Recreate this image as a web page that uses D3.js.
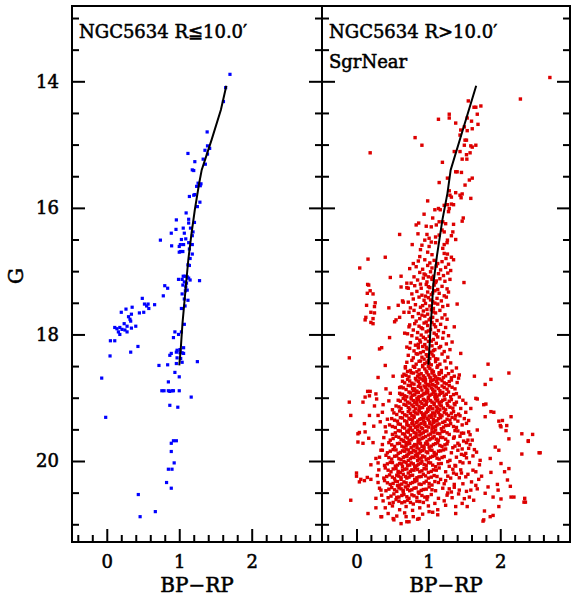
<!DOCTYPE html>
<html>
<head>
<meta charset="utf-8">
<script src="https://cdn.jsdelivr.net/npm/d3@7"></script>
<style>
body{margin:0;background:#fff}
text{font-family:"DejaVu Serif",serif;fill:#000;stroke:#000;stroke-width:0.55px}
</style>
</head>
<body>
<div id="chart"></div>
<script>
// tick values
var xMajor = [0, 1, 2];
var xMinor = [-0.4, -0.2, 0.2, 0.4, 0.6, 0.8, 1.2, 1.4, 1.6, 1.8, 2.2, 2.4, 2.6, 2.8];
var yMajor = [14, 16, 18, 20];
var yMinor = [13, 13.5, 14.5, 15, 15.5, 16.5, 17, 17.5, 18.5, 19, 19.5, 20.5, 21];

// ridge lines (BP-RP, G)
var ridgeIn = [[1.65,14.07],[1.575,14.45],[1.445,14.93],[1.31,15.40],[1.275,15.61],[1.215,16.03],[1.17,16.40],[1.125,16.82],[1.09,17.25],[1.045,17.82],[1.02,18.24],[1.00,18.49]];
var ridgeOut = [[1.665,14.07],[1.31,15.40],[1.265,15.77],[1.195,16.19],[1.12,16.75],[1.07,17.19],[1.035,17.82],[1.00,18.48]];

// stars inside R<=10' : flat list of BP-RP, G
var inner = [1.70,13.89, 1.64,14.10, 1.61,14.32, 1.385,14.80, 1.39,15.02, 1.42,15.06, 1.355,15.09, 1.39,15.15, 1.33,15.23, 1.36,15.31, 1.12,15.14, 1.215,15.27, 1.18,15.40, 1.20,15.41, 1.26,15.61, 1.30,15.62, 1.24,15.66, 1.29,15.65, 1.215,15.79, 1.20,15.80, 1.14,15.82, 1.285,15.91, 1.25,15.98, 1.095,16.08, 1.13,16.18, 0.96,16.19, 1.21,16.23, 1.13,16.24, 1.055,16.32, 0.955,16.34, 1.155,16.32, 1.19,16.38, 0.89,16.40, 1.07,16.40, 1.18,16.44, 1.09,16.49, 1.03,16.50, 0.74,16.51, 1.13,16.55, 1.18,16.58, 1.06,16.58, 1.015,16.58, 0.895,16.60, 1.00,16.61, 1.14,16.65, 1.02,16.69, 1.00,16.70, 1.05,16.69, 1.18,16.73, 1.15,16.80, 1.12,16.90, 1.14,16.91, 1.055,17.08, 1.08,17.08, 1.11,17.09, 1.13,17.11, 1.04,17.13, 0.99,17.13, 1.07,17.17, 1.10,17.19, 1.15,17.14, 1.28,17.15, 1.05,17.22, 1.09,17.25, 1.11,17.30, 1.085,17.31, 1.04,17.36, 0.80,17.23, 0.84,17.27, 0.78,17.39, 0.49,17.43, 1.07,17.44, 0.52,17.52, 0.57,17.52, 0.66,17.53, 0.55,17.55, 0.35,17.57, 0.265,17.60, 0.58,17.59, 0.20,17.65, 0.45,17.66, 0.51,17.65, 0.34,17.68, 0.30,17.72, 0.32,17.76, 0.33,17.79, 0.24,17.83, 0.40,17.87, 0.28,17.87, 0.11,17.89, 0.14,17.91, 0.18,17.89, 0.21,17.92, 0.25,17.93, 0.34,17.90, 0.16,17.96, 0.28,17.96, 0.18,18.00, 0.05,18.10, 0.11,18.10, 0.43,18.19, 0.33,18.28, 0.045,18.34, 1.08,17.55, 1.03,17.59, 1.12,17.46, 1.07,17.84, 0.94,17.96, 0.99,18.00, 0.92,18.05, 1.03,17.96, 1.06,18.21, 1.01,18.24, 0.97,18.25, 0.89,18.30, 0.96,18.28, 1.01,18.29, 1.04,18.29, 0.87,18.33, 1.06,18.30, 0.97,18.37, 1.02,18.38, 0.96,18.46, 1.04,18.44, 1.25,18.43, 0.84,18.48, 0.72,18.49, 0.94,18.60, 1.00,18.67, 0.85,18.75, -0.07,18.69, 0.76,18.89, 0.79,18.89, 0.85,18.89, 0.87,18.90, 0.90,18.89, 0.92,18.89, 1.00,18.89, 1.165,18.99, 0.87,19.12, 0.98,19.15, -0.015,19.31, 0.92,19.68, 0.96,19.68, 0.89,19.72, 0.89,19.85, 0.93,20.03, 0.85,20.13, 0.90,20.13, 0.825,20.34, 0.89,20.43, 0.435,20.53, 0.67,20.80, 0.46,20.88];

// stars outside R>10' (SgrNear) : flat list of BP-RP, G
var outerBright = [2.69,13.94, 2.28,14.28, 1.555,14.31, 1.635,14.41, 1.66,14.41, 1.73,14.39, 1.14,14.60, 1.29,14.52, 1.29,14.58, 1.54,14.58, 1.68,14.52, 1.38,14.66, 1.60,14.63, 1.50,14.72, 1.61,14.75, 1.69,14.68, 1.45,14.77, 1.54,14.78, 1.44,14.85, 1.51,14.93, 1.53,14.93, 0.815,14.89, 0.91,15.01, 0.19,15.13, 1.66,15.01, 1.59,15.02, 1.61,15.04, 1.50,15.01, 1.44,15.11, 1.36,15.11, 1.58,15.13, 1.53,15.16, 1.47,15.23, 1.535,15.23, 1.195,15.28, 1.38,15.43, 1.46,15.44, 1.40,15.43, 1.265,15.53, 1.57,15.56, 1.61,15.53, 1.15,15.60, 1.51,15.64, 1.29,15.73, 1.30,15.80, 1.44,15.80, 1.47,15.78, 1.38,15.76, 1.32,15.83, 0.99,15.89, 1.455,15.84, 1.59,15.85, 1.265,15.95, 1.22,15.96, 1.32,15.94, 1.35,15.95, 1.14,16.01, 1.165,16.03, 1.29,16.01, 1.09,16.03, 1.28,16.06, 0.94,16.10, 1.06,16.16, 1.485,16.16, 1.47,16.21, 1.15,16.22, 1.20,16.22, 1.24,16.25, 0.865,16.24, 0.83,16.27, 0.97,16.29, 1.04,16.30, 1.11,16.27, 1.35,16.26, 1.19,16.35, 1.22,16.38, 1.34,16.38, 0.60,16.42, 0.855,16.41, 0.98,16.42, 1.15,16.43, 1.32,16.44, 1.01,16.48, 1.10,16.46, 0.95,16.51, 1.265,16.51, 1.38,16.50, 0.775,16.58, 1.04,16.54, 1.10,16.55, 1.22,16.58, 1.26,16.55, 0.91,16.59, 1.01,16.61, 1.20,16.64, 0.89,16.66, 0.99,16.70, 1.22,16.72, 1.265,16.73, 1.05,16.74, 0.88,16.77, 1.32,16.78, 0.40,16.78, 0.16,16.81, 1.245,16.80];

var outerBlue = [0.045,16.95, 0.47,17.10, 0.62,17.08, 0.155,17.21, 0.17,17.22, 0.19,17.31, 0.15,17.35, 0.23,17.36, 0.26,17.50, 0.25,17.56, 0.14,17.54, 0.45,17.58, 0.20,17.65, 0.25,17.66, 0.23,17.75, 0.12,17.77, 0.13,17.73, 0.20,17.81, 0.23,17.83, 0.58,17.54, 0.60,17.73, 0.55,17.77, 0.53,17.80, 0.65,17.49, 0.66,17.65, 0.62,17.25, 0.70,17.19, 0.72,17.27, 0.64,17.47, 0.46,18.05, 0.32,18.23, 0.35,18.21, -0.10,18.37, 0.40,18.49, 0.51,18.66, 0.30,18.68, 0.155,18.90, 0.27,18.94, 0.41,18.86, 0.12,18.99, 0.19,18.90, 0.60,18.84, 0.62,18.95, 0.64,18.66, 0.68,18.51, 0.70,18.20, 0.67,17.98, 0.73,17.88,
  1.495,17.18, 1.83,18.47, 1.87,18.71, 2.12,18.61, 1.64,18.66, 1.79,18.79, 1.43,18.64, 1.42,18.69, 1.39,18.53, 1.66,19.01, 1.68,19.02, 1.36,17.88, 1.33,18.12, 1.45,18.30, 1.40,17.52];

var outerRgb = [0.86,16.84, 0.95,16.82, 1.02,16.87, 1.08,16.83, 1.13,16.88, 1.19,16.85, 1.28,16.89, 0.79,16.88, 1.35,16.82,
  0.83,16.93, 0.92,16.97, 0.99,16.91, 1.05,16.95, 1.11,16.92, 1.17,16.98, 1.24,16.94, 1.31,16.99, 0.74,16.96,
  0.88,17.02, 0.96,17.06, 1.03,17.01, 1.07,17.08, 1.14,17.04, 1.21,17.07, 1.27,17.03, 0.80,17.09, 1.00,17.09,
  0.85,17.14, 0.93,17.11, 0.98,17.17, 1.05,17.13, 1.10,17.18, 1.16,17.12, 1.23,17.16, 0.76,17.19, 1.30,17.13,
  0.81,17.23, 0.90,17.27, 0.97,17.21, 1.02,17.26, 1.08,17.22, 1.13,17.29, 1.19,17.24, 1.26,17.28, 0.70,17.26,
  0.84,17.32, 0.91,17.38, 0.99,17.33, 1.04,17.37, 1.09,17.31, 1.15,17.35, 1.22,17.39, 0.77,17.36, 1.28,17.33,
  0.79,17.44, 0.87,17.41, 0.94,17.46, 1.00,17.42, 1.06,17.48, 1.12,17.43, 1.18,17.47, 1.25,17.41, 0.72,17.49,
  0.82,17.53, 0.89,17.57, 0.96,17.51, 1.02,17.55, 1.07,17.59, 1.13,17.52, 1.20,17.56, 0.75,17.58, 1.27,17.54,
  0.80,17.62, 0.86,17.67, 0.93,17.63, 0.99,17.68, 1.04,17.61, 1.10,17.66, 1.16,17.62, 1.23,17.69, 0.73,17.65,
  0.78,17.72, 0.88,17.75, 0.95,17.71, 1.01,17.77, 1.06,17.73, 1.12,17.78, 1.19,17.74, 0.83,17.79, 1.26,17.76,
  0.81,17.83, 0.87,17.87, 0.94,17.82, 0.99,17.86, 1.05,17.81, 1.10,17.88, 1.17,17.84, 1.24,17.89, 0.74,17.85,
  0.79,17.93, 0.85,17.97, 0.92,17.91, 0.97,17.96, 1.03,17.92, 1.08,17.98, 1.14,17.94, 1.21,17.97, 0.71,17.99,
  0.77,18.02, 0.84,18.06, 0.90,18.01, 0.96,18.07, 1.01,18.03, 1.07,18.08, 1.13,18.04, 1.20,18.06, 1.28,18.02, 0.88,18.09,
  0.75,18.13, 0.82,18.17, 0.89,18.12, 0.95,18.16, 1.00,18.11, 1.05,18.18, 1.11,18.14, 1.17,18.19, 1.25,18.15, 0.92,18.19,
  0.74,18.22, 0.80,18.26, 0.86,18.21, 0.93,18.27, 0.98,18.23, 1.03,18.28, 1.09,18.24, 1.15,18.21, 1.22,18.27, 1.30,18.24, 0.89,18.29,
  0.72,18.33, 0.79,18.37, 0.85,18.31, 0.91,18.36, 0.97,18.32, 1.02,18.38, 1.07,18.34, 1.13,18.39, 1.19,18.31, 1.27,18.36, 0.94,18.39, 1.05,18.31,
  0.70,18.44, 0.77,18.41, 0.83,18.47, 0.89,18.42, 0.95,18.46, 1.00,18.41, 1.04,18.48, 1.10,18.43, 1.16,18.47, 1.23,18.42, 1.31,18.45, 0.92,18.49, 0.98,18.44,
  0.68,18.53, 0.75,18.57, 0.81,18.52, 0.87,18.56, 0.92,18.51, 0.97,18.58, 1.02,18.54, 1.07,18.59, 1.12,18.52, 1.18,18.57, 1.25,18.53, 1.33,18.58, 0.84,18.59, 1.00,18.51,
  0.66,18.63, 0.73,18.67, 0.79,18.61, 0.85,18.66, 0.90,18.62, 0.95,18.68, 1.00,18.64, 1.05,18.61, 1.10,18.67, 1.15,18.63, 1.21,18.68, 1.28,18.62, 1.36,18.66, 0.88,18.69, 1.03,18.69,
  0.64,18.74, 0.71,18.71, 0.77,18.77, 0.83,18.72, 0.88,18.78, 0.93,18.73, 0.98,18.79, 1.03,18.74, 1.08,18.71, 1.13,18.77, 1.19,18.73, 1.25,18.78, 1.32,18.72, 1.40,18.76, 0.96,18.71, 1.06,18.79,
  0.62,18.83, 0.69,18.87, 0.75,18.81, 0.81,18.86, 0.86,18.82, 0.91,18.88, 0.96,18.84, 1.01,18.81, 1.06,18.87, 1.11,18.83, 1.16,18.89, 1.22,18.84, 1.29,18.81, 1.37,18.86, 0.79,18.89, 0.99,18.89, 1.09,18.81,
  0.94,17.045, 1.05,17.105, 1.11,17.155, 0.89,17.205, 1.00,17.245, 1.06,17.345, 0.96,17.395, 1.03,17.455, 1.09,17.505, 0.92,17.545, 0.98,17.605, 1.07,17.645, 0.91,17.695, 1.03,17.745, 0.97,17.805, 1.08,17.845, 0.90,17.895, 1.00,17.945, 1.11,18.005, 0.93,18.045, 1.04,18.105, 0.86,18.155, 0.97,18.205, 1.07,18.255, 0.83,18.305, 0.99,18.345, 1.10,18.385, 0.87,18.425, 1.01,18.455, 1.13,18.495, 0.79,18.505, 0.95,18.545, 1.05,18.565, 1.15,18.605, 0.71,18.585];

var outerMs = [0.60,18.93, 0.67,18.97, 0.73,18.91, 0.78,18.96, 0.83,18.92, 0.88,18.98, 0.93,18.94, 0.97,18.91, 1.02,18.96, 1.07,18.92, 1.12,18.98, 1.17,18.93, 1.22,18.97, 1.28,18.91, 1.35,18.95, 1.43,18.99, 0.86,18.99, 1.00,18.99, 1.10,18.95, 0.76,18.99,
  0.58,19.04, 0.65,19.01, 0.71,19.07, 0.76,19.02, 0.81,19.08, 0.86,19.03, 0.91,19.09, 0.95,19.04, 1.00,19.01, 1.05,19.07, 1.10,19.02, 1.15,19.08, 1.20,19.04, 1.26,19.09, 1.32,19.03, 1.39,19.07, 1.48,19.04, 0.84,19.06, 0.98,19.06, 1.12,19.05,
  0.55,19.13, 0.62,19.17, 0.69,19.12, 0.74,19.18, 0.79,19.14, 0.84,19.11, 0.89,19.16, 0.94,19.12, 0.99,19.18, 1.03,19.14, 1.08,19.11, 1.13,19.17, 1.18,19.13, 1.24,19.19, 1.30,19.15, 1.37,19.11, 1.45,19.17, 0.87,19.19, 1.01,19.19, 1.16,19.19,
  0.52,19.24, 0.60,19.21, 0.67,19.27, 0.72,19.22, 0.77,19.28, 0.82,19.24, 0.87,19.21, 0.92,19.27, 0.97,19.23, 1.01,19.29, 1.06,19.24, 1.11,19.21, 1.16,19.27, 1.22,19.23, 1.28,19.28, 1.35,19.22, 1.42,19.26, 1.52,19.23, 0.80,19.29, 0.95,19.29, 1.09,19.29,
  0.49,19.33, 0.57,19.37, 0.64,19.32, 0.70,19.38, 0.75,19.34, 0.80,19.31, 0.85,19.37, 0.90,19.33, 0.95,19.39, 1.00,19.35, 1.04,19.31, 1.09,19.37, 1.14,19.33, 1.20,19.39, 1.26,19.34, 1.33,19.31, 1.41,19.37, 1.50,19.33, 0.78,19.39, 0.93,19.31, 1.07,19.39,
  0.46,19.43, 0.54,19.47, 0.61,19.42, 0.67,19.48, 0.72,19.44, 0.77,19.41, 0.82,19.47, 0.87,19.43, 0.92,19.49, 0.97,19.45, 1.02,19.41, 1.07,19.47, 1.12,19.43, 1.18,19.49, 1.24,19.44, 1.31,19.41, 1.39,19.47, 1.47,19.43, 0.75,19.49, 0.90,19.41, 1.05,19.49,
  0.41,19.54, 0.50,19.58, 0.58,19.52, 0.64,19.57, 0.70,19.53, 0.75,19.59, 0.80,19.55, 0.85,19.51, 0.90,19.57, 0.95,19.53, 1.00,19.59, 1.05,19.54, 1.10,19.51, 1.16,19.57, 1.22,19.53, 1.29,19.58, 1.37,19.52, 1.46,19.56, 1.56,19.54, 0.73,19.51, 0.88,19.59,
  0.38,19.63, 0.47,19.67, 0.55,19.61, 0.62,19.66, 0.68,19.62, 0.73,19.68, 0.78,19.64, 0.83,19.61, 0.88,19.67, 0.93,19.63, 0.98,19.69, 1.03,19.65, 1.08,19.61, 1.14,19.67, 1.20,19.63, 1.27,19.69, 1.35,19.64, 1.44,19.61, 1.55,19.67, 0.66,19.69, 0.86,19.69,
  0.36,19.74, 0.45,19.71, 0.53,19.77, 0.60,19.72, 0.66,19.78, 0.71,19.73, 0.76,19.79, 0.81,19.74, 0.86,19.71, 0.91,19.77, 0.96,19.72, 1.01,19.78, 1.07,19.74, 1.13,19.71, 1.19,19.77, 1.26,19.73, 1.34,19.79, 1.43,19.75, 1.53,19.71, 0.69,19.71, 0.84,19.79,
  0.34,19.83, 0.43,19.87, 0.51,19.82, 0.58,19.88, 0.64,19.84, 0.69,19.81, 0.74,19.87, 0.79,19.83, 0.84,19.89, 0.89,19.85, 0.94,19.81, 0.99,19.87, 1.05,19.83, 1.11,19.89, 1.17,19.84, 1.24,19.81, 1.32,19.87, 1.41,19.83, 1.52,19.88, 0.72,19.89, 0.87,19.81,
  0.32,19.94, 0.41,19.91, 0.49,19.97, 0.56,19.92, 0.62,19.98, 0.67,19.93, 0.72,19.99, 0.77,19.94, 0.82,19.91, 0.87,19.97, 0.92,19.92, 0.97,19.98, 1.03,19.94, 1.09,19.91, 1.15,19.97, 1.22,19.93, 1.30,19.99, 1.39,19.94, 1.50,19.91, 0.70,19.91, 0.85,19.99,
  0.30,20.03, 0.39,20.07, 0.47,20.02, 0.54,20.08, 0.60,20.04, 0.66,20.01, 0.71,20.07, 0.76,20.03, 0.81,20.09, 0.86,20.05, 0.91,20.01, 0.97,20.07, 1.03,20.03, 1.10,20.09, 1.18,20.04, 1.27,20.01, 1.37,20.07, 1.48,20.03, 0.64,20.09,
  0.31,20.14, 0.40,20.11, 0.48,20.17, 0.55,20.12, 0.61,20.18, 0.67,20.13, 0.72,20.19, 0.77,20.14, 0.82,20.11, 0.88,20.17, 0.94,20.12, 1.00,20.18, 1.07,20.14, 1.15,20.11, 1.24,20.17, 1.34,20.13, 1.46,20.19, 0.58,20.19,
  0.29,20.23, 0.38,20.27, 0.46,20.22, 0.53,20.28, 0.59,20.24, 0.65,20.21, 0.70,20.27, 0.75,20.23, 0.81,20.29, 0.87,20.25, 0.93,20.21, 1.00,20.27, 1.08,20.23, 1.17,20.29, 1.27,20.24, 1.39,20.21, 0.62,20.29,
  0.30,20.34, 0.39,20.31, 0.47,20.37, 0.54,20.32, 0.60,20.38, 0.66,20.33, 0.72,20.39, 0.78,20.34, 0.84,20.31, 0.90,20.37, 0.97,20.32, 1.05,20.38, 1.14,20.34, 1.24,20.31, 1.36,20.37, 0.57,20.39,
  0.32,20.43, 0.41,20.47, 0.49,20.42, 0.56,20.48, 0.62,20.44, 0.68,20.41, 0.74,20.47, 0.80,20.43, 0.86,20.49, 0.93,20.45, 1.01,20.41, 1.10,20.47, 1.20,20.43, 1.32,20.49, 0.65,20.49,
  0.35,20.54, 0.44,20.58, 0.52,20.52, 0.59,20.57, 0.66,20.53, 0.73,20.59, 0.80,20.55, 0.87,20.51, 0.95,20.57, 1.04,20.53, 1.14,20.59, 1.26,20.54,
  0.37,20.63, 0.46,20.67, 0.55,20.61, 0.63,20.66, 0.71,20.62, 0.79,20.68, 0.88,20.64, 0.98,20.61, 1.09,20.67, 1.22,20.63,
  0.40,20.74, 0.50,20.71, 0.60,20.77, 0.69,20.72, 0.78,20.78, 0.88,20.74, 1.00,20.71, 1.13,20.77,
  0.44,20.83, 0.56,20.87, 0.67,20.82, 0.79,20.88, 0.92,20.84, 1.06,20.81,
  0.52,20.93, 0.70,20.96, 0.85,20.92, 0.62,20.99];

// extra stars filling the turnoff core
var outerCore = [0.69,18.645, 0.76,18.605, 0.82,18.695, 0.87,18.635, 0.93,18.655, 0.98,18.605, 1.02,18.675, 1.08,18.645, 1.13,18.695, 1.18,18.605, 1.24,18.655, 1.32,18.685,
  0.67,18.765, 0.74,18.735, 0.80,18.785, 0.86,18.745, 0.91,18.705, 0.96,18.755, 1.01,18.795, 1.05,18.725, 1.11,18.745, 1.16,18.705, 1.22,18.765, 1.29,18.745,
  0.65,18.845, 0.72,18.805, 0.78,18.855, 0.84,18.895, 0.89,18.835, 0.94,18.815, 0.98,18.865, 1.04,18.845, 1.09,18.895, 1.14,18.855, 1.19,18.815, 1.26,18.865, 1.33,18.835,
  0.64,18.945, 0.70,18.985, 0.75,18.925, 0.81,18.955, 0.86,18.915, 0.91,18.965, 0.95,18.935, 0.99,18.925, 1.05,18.945, 1.09,18.985, 1.15,18.955, 1.20,18.915, 1.25,18.945, 1.31,18.985, 1.39,18.935,
  0.61,19.055, 0.68,19.035, 0.74,19.085, 0.79,19.045, 0.84,19.015, 0.89,19.065, 0.93,19.025, 0.97,19.075, 1.03,19.045, 1.08,19.085, 1.13,19.035, 1.18,19.065, 1.23,19.025, 1.29,19.055, 1.36,19.095,
  0.59,19.145, 0.66,19.105, 0.72,19.155, 0.77,19.115, 0.82,19.175, 0.87,19.135, 0.92,19.155, 0.97,19.105, 1.01,19.155, 1.06,19.175, 1.11,19.145, 1.16,19.115, 1.21,19.165, 1.27,19.125, 1.34,19.165,
  0.56,19.265, 0.64,19.235, 0.70,19.285, 0.75,19.245, 0.80,19.215, 0.85,19.255, 0.90,19.235, 0.95,19.255, 0.99,19.215, 1.04,19.275, 1.09,19.245, 1.14,19.235, 1.19,19.285, 1.25,19.255, 1.32,19.245, 1.38,19.285,
  0.53,19.355, 0.61,19.315, 0.67,19.365, 0.73,19.325, 0.78,19.355, 0.83,19.395, 0.88,19.345, 0.93,19.365, 0.98,19.325, 1.02,19.385, 1.07,19.345, 1.12,19.365, 1.17,19.315, 1.23,19.375, 1.30,19.355, 1.37,19.335,
  0.50,19.455, 0.58,19.415, 0.64,19.465, 0.70,19.425, 0.75,19.465, 0.80,19.435, 0.85,19.455, 0.90,19.475, 0.95,19.425, 1.00,19.465, 1.05,19.435, 1.10,19.455, 1.15,19.415, 1.21,19.465, 1.28,19.435, 1.35,19.455,
  0.54,19.555, 0.61,19.525, 0.67,19.575, 0.72,19.545, 0.78,19.515, 0.83,19.565, 0.88,19.535, 0.93,19.555, 0.98,19.525, 1.03,19.575, 1.08,19.545, 1.13,19.565, 1.19,19.535, 1.26,19.555,
  0.51,19.645, 0.59,19.625, 0.65,19.675, 0.71,19.635, 0.76,19.665, 0.81,19.625, 0.86,19.655, 0.91,19.645, 0.96,19.615, 1.01,19.665, 1.06,19.635, 1.11,19.655, 1.17,19.625, 1.24,19.655,
  0.49,19.745, 0.57,19.725, 0.63,19.765, 0.69,19.755, 0.74,19.725, 0.79,19.765, 0.84,19.745, 0.89,19.725, 0.94,19.765, 0.99,19.735, 1.04,19.765, 1.10,19.725, 1.16,19.755, 1.23,19.745,
  0.47,19.845, 0.55,19.825, 0.61,19.865, 0.67,19.845, 0.72,19.825, 0.77,19.865, 0.82,19.845, 0.87,19.875, 0.92,19.835, 0.97,19.855, 1.02,19.825, 1.08,19.865, 1.14,19.845, 1.21,19.825,
  0.45,19.945, 0.53,19.925, 0.59,19.965, 0.65,19.945, 0.70,19.925, 0.75,19.965, 0.80,19.945, 0.85,19.925, 0.90,19.955, 0.95,19.935, 1.00,19.965, 1.06,19.925, 1.12,19.955, 1.19,19.945,
  0.43,20.045, 0.50,20.025, 0.57,20.065, 0.63,20.045, 0.69,20.025, 0.74,20.065, 0.79,20.045, 0.84,20.075, 0.89,20.035, 0.94,20.055, 1.00,20.025, 1.06,20.065, 1.14,20.045,
  0.44,20.145, 0.51,20.125, 0.58,20.165, 0.64,20.145, 0.70,20.125, 0.75,20.165, 0.80,20.145, 0.85,20.135, 0.91,20.155, 0.97,20.125, 1.04,20.165, 1.11,20.145,
  0.42,20.245, 0.50,20.255, 0.56,20.225, 0.62,20.265, 0.68,20.245, 0.73,20.255, 0.78,20.225, 0.84,20.265, 0.90,20.245, 0.96,20.235, 1.04,20.255, 1.12,20.245,
  0.43,20.345, 0.51,20.355, 0.57,20.325, 0.63,20.365, 0.69,20.345, 0.75,20.355, 0.81,20.325, 0.87,20.365, 0.94,20.345, 1.01,20.355, 1.09,20.325,
  0.45,20.445, 0.53,20.455, 0.59,20.425, 0.65,20.465, 0.71,20.445, 0.77,20.455, 0.83,20.425, 0.90,20.465, 0.97,20.445, 1.05,20.455,
  0.48,20.555, 0.56,20.575, 0.63,20.545, 0.70,20.565, 0.77,20.535, 0.84,20.575, 0.91,20.545, 0.99,20.565, 0.51,20.655, 0.59,20.635, 0.67,20.645, 0.75,20.655, 0.84,20.635, 0.93,20.655,
  1.44,19.285, 1.53,19.405, 1.41,19.525, 1.49,19.685, 1.37,19.765, 1.46,19.895, 1.57,20.025, 1.29,20.085, 1.43,20.265, 1.36,20.415, 1.27,20.505, 1.50,20.595, 1.62,20.145, 1.66,20.385, 1.58,19.585];

var outerField = [2.555,19.87, 2.30,19.89, 2.39,19.68, 2.30,19.57, 2.15,19.30, 2.09,19.44, 2.03,19.36, 1.98,19.37, 2.00,19.44, 1.91,19.23, 1.80,19.10, 2.34,20.59, 2.33,20.65, 2.15,20.57, 2.10,20.30, 1.98,20.72, 1.90,20.86, 1.77,20.93, 1.57,20.57,
  2.45,19.58, 2.39,19.69, 2.54,19.87, 2.35,20.65, 2.19,20.57, 2.14,20.40, 2.12,20.12, 2.06,20.17, 2.01,20.04, 1.98,19.83, 1.93,19.78, 1.86,19.96, 1.87,20.18, 1.96,20.37, 1.97,20.46, 1.83,20.41, 1.79,20.51, 1.90,20.57, 2.01,20.60, 1.78,20.79, 1.86,20.88, 1.76,20.95, 1.63,20.62, 1.70,20.29, 1.66,20.17, 1.72,19.99, 1.67,19.86, 1.61,19.67, 1.68,19.51, 1.79,19.30, 1.87,19.22, 2.01,19.46, 2.08,19.52, 2.12,19.65, 1.77,19.11, 1.59,19.17, 1.52,19.09, 1.56,19.36, 1.49,19.56, 1.56,19.80, 1.44,20.01, 1.52,20.25, 1.59,20.46, 1.43,20.46, 1.47,20.67, 1.38,20.72, 1.54,20.72, 1.38,20.83, 1.24,20.70, 1.13,20.85, 1.01,20.80, 0.87,20.91, 0.73,20.96, 0.69,20.88, 0.51,20.91, 0.35,20.88, 0.16,20.83, 0.27,20.74, -0.08,20.62,
  1.36,19.62, 1.41,19.72, 1.47,19.81, 1.58,19.74, 1.62,19.92, 1.38,20.08, 1.45,20.14, 1.55,20.21, 1.60,20.33, 1.48,20.36, 1.42,20.52, 1.33,20.58, 1.53,20.48, 1.68,20.44, 1.74,20.24, 1.71,20.06, 1.64,19.82, 1.53,19.95, 1.29,20.44, 1.31,20.27, 1.22,20.36, 1.35,20.19,
  -0.10,19.07, -0.08,19.28, 0.00,20.24, 0.04,20.33, 0.11,20.31, 0.20,20.29, 0.04,19.55, 0.12,19.54, 0.02,19.70, 0.17,19.64, 0.34,20.88,
  0.09,19.07, 0.18,18.97, 0.25,19.13, 0.30,19.28, 0.36,19.23, 0.43,19.34, 0.18,19.28, 0.11,19.41, 0.02,19.57, 0.09,19.72, 0.23,19.71, 0.36,19.83, 0.27,19.96, 0.20,20.06, 0.00,20.19, 0.06,20.29, 0.15,20.26, 0.34,20.46, 0.27,20.59,
  0.28,19.02, 0.37,19.11, 0.45,19.05, 0.50,19.19, 0.33,19.38, 0.40,19.46, 0.24,19.45, 0.47,18.93];

function pairs(a) {
  var out = [];
  for (var i = 0; i < a.length; i += 2) out.push({c: a[i], g: a[i + 1]});
  return out;
}

var width = 571, height = 596;
var plotTop = 6, plotBottom = 542;
var xDomain = [-0.48, 2.97];
var yDomain = [12.81, 21.28];

var svg = d3.select("#chart").append("svg")
  .attr("width", width)
  .attr("height", height);

var y = d3.scaleLinear().domain(yDomain).range([plotTop, plotBottom]);

var panels = [
  {x0: 72, x1: 322, pts: pairs(inner), ridge: ridgeIn, color: "#0000ff", size: 3.2,
   title: ["NGC5634  R\u226610.0\u2032"], labels: true},
  {x0: 322, x1: 570, pts: pairs(outerBright.concat(outerBlue, outerRgb, outerMs, outerCore, outerField)), ridge: ridgeOut, color: "#dd0000", size: 3.4,
   title: ["NGC5634  R>10.0\u2032", "SgrNear"], labels: false}
];

panels.forEach(function(p) {
  var x = d3.scaleLinear().domain(xDomain).range([p.x0, p.x1]);
  var g = svg.append("g");

  // points
  g.append("g").selectAll("rect")
    .data(p.pts)
    .enter().append("rect")
    .attr("x", function(d) { return x(d.c) - p.size / 2; })
    .attr("y", function(d) { return y(d.g) - p.size / 2; })
    .attr("width", p.size)
    .attr("height", p.size)
    .style("fill", p.color);

  // ridge line
  g.append("path")
    .datum(p.ridge)
    .attr("fill", "none")
    .attr("stroke", "#000")
    .attr("stroke-width", 2)
    .attr("d", d3.line()
      .x(function(d) { return x(d[0]); })
      .y(function(d) { return y(d[1]); }));

  // axes: bottom
  var bMaj = g.append("g").attr("transform", "translate(0," + plotBottom + ")")
    .call(d3.axisBottom(x).tickValues(xMajor).tickSizeInner(-13).tickSizeOuter(0).tickPadding(13).tickFormat(d3.format("d")));
  var bMin = g.append("g").attr("transform", "translate(0," + plotBottom + ")")
    .call(d3.axisBottom(x).tickValues(xMinor).tickSizeInner(-7).tickSizeOuter(0).tickFormat(""));

  // left and right
  var lMaj = g.append("g").attr("transform", "translate(" + p.x0 + ",0)")
    .call(d3.axisLeft(y).tickValues(yMajor).tickSizeInner(-13).tickSizeOuter(0).tickPadding(13)
      .tickFormat(p.labels ? d3.format("d") : ""));
  var lMin = g.append("g").attr("transform", "translate(" + p.x0 + ",0)")
    .call(d3.axisLeft(y).tickValues(yMinor).tickSizeInner(-7).tickSizeOuter(0).tickFormat(""));
  var rMaj = g.append("g").attr("transform", "translate(" + p.x1 + ",0)")
    .call(d3.axisRight(y).tickValues(yMajor).tickSizeInner(-13).tickSizeOuter(0).tickFormat(""));
  var rMin = g.append("g").attr("transform", "translate(" + p.x1 + ",0)")
    .call(d3.axisRight(y).tickValues(yMinor).tickSizeInner(-7).tickSizeOuter(0).tickFormat(""));

  [bMaj, bMin, lMaj, lMin, rMaj, rMin].forEach(function(a) {
    a.select(".domain").remove();
    a.selectAll("line").attr("stroke", "#000").attr("stroke-width", 2);
    a.selectAll("text")
      .style("font-family", "'DejaVu Serif', serif")
      .style("font-size", "18px")
      .attr("fill", "#000");
  });

  // frame
  g.append("rect")
    .attr("x", p.x0)
    .attr("y", plotTop)
    .attr("width", p.x1 - p.x0)
    .attr("height", plotBottom - plotTop)
    .attr("fill", "none")
    .attr("stroke", "#000")
    .attr("stroke-width", 2);

  // x title
  g.append("text")
    .attr("x", (p.x0 + p.x1) / 2)
    .attr("y", 592)
    .attr("text-anchor", "middle")
    .style("font-size", "20px")
    .text("BP\u2212RP");

  // panel titles
  p.title.forEach(function(t, i) {
    g.append("text")
      .attr("x", p.x0 + 7)
      .attr("y", 38 + i * 30)
      .style("font-size", "18px")
      .text(t);
  });
});

// y title
svg.append("text")
  .attr("transform", "translate(23,276) rotate(-90)")
  .attr("text-anchor", "middle")
  .style("font-size", "20px")
  .text("G");
</script>
</body>
</html>
